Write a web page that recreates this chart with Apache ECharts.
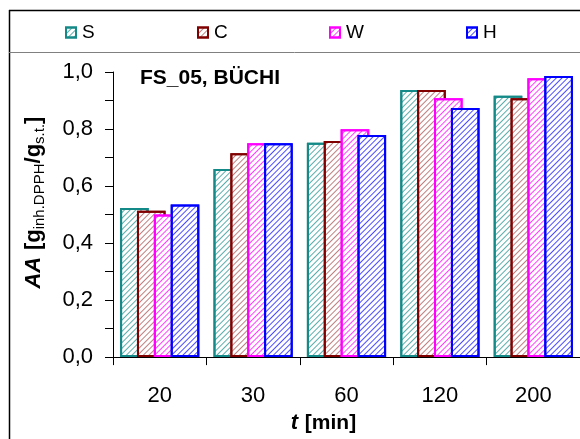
<!DOCTYPE html>
<html>
<head>
<meta charset="utf-8">
<script src="https://cdn.jsdelivr.net/npm/echarts@6/dist/echarts.min.js"></script>
<style>
html,body{margin:0;padding:0;background:#fff;}
#chart{width:580px;height:439px;}
</style>
</head>
<body>
<div id="chart"></div>
<script>
var categories = ['20', '30', '60', '120', '200'];
var seriesNames = ['S', 'C', 'W', 'H'];
var valuesS = [0.523, 0.660, 0.752, 0.937, 0.917];
var valuesC = [0.513, 0.715, 0.758, 0.937, 0.908];
var valuesW = [0.500, 0.750, 0.799, 0.908, 0.978];
var valuesH = [0.535, 0.750, 0.779, 0.874, 0.986];
var yTickLabels = ['0,0', '', '0,2', '', '0,4', '', '0,6', '', '0,8', '', '1,0'];
var titleText = 'FS_05, BÜCHI';

var seriesValues = [valuesS, valuesC, valuesW, valuesH];
var borderColors = ['#148a88', '#800000', '#ff00ff', '#0000ff'];
var stripeColors = ['rgba(20,138,136,0.7)', 'rgba(128,0,0,0.5)', 'rgba(255,0,255,0.75)', 'rgba(0,0,255,0.7)'];
var legendLefts = [60, 192, 324, 461];
var FONT = "'Liberation Sans', Arial, sans-serif";

var chart = echarts.init(document.getElementById('chart'), null, {renderer: 'canvas'});

var series = seriesNames.map(function (n, i) {
  return {
    name: n,
    type: 'bar',
    data: seriesValues[i],
    barWidth: 28.6,
    barGap: '-41%',
    itemStyle: {
      color: '#ffffff',
      borderColor: borderColors[i],
      borderWidth: 2,
      decal: {
        symbol: 'rect',
        symbolSize: 1,
        dashArrayX: [1, 0],
        dashArrayY: [1, 3],
        rotation: -Math.PI / 4,
        color: stripeColors[i]
      }
    },
    emphasis: {disabled: true},
    animation: false
  };
});

var legends = seriesNames.map(function (n, i) {
  return {
    data: [n],
    left: legendLefts[i],
    top: 18,
    icon: 'rect',
    itemWidth: 10,
    itemHeight: 10,
    itemGap: 5,
    selectedMode: false,
    textStyle: {fontFamily: FONT, fontSize: 19, color: '#000', padding: [0, 0, 0, 1]}
  };
});

var option = {
  backgroundColor: '#ffffff',
  animation: false,
  title: {
    text: titleText,
    left: 135,
    top: 63,
    textStyle: {fontFamily: FONT, fontSize: 21, fontWeight: 'bold', color: '#000'}
  },
  legend: legends,
  grid: {left: 113, top: 72, width: 468, height: 288, containLabel: false},
  xAxis: {
    type: 'category',
    data: categories,
    boundaryGap: true,
    axisLine: {show: true, lineStyle: {color: '#000', width: 1}},
    axisTick: {show: true, length: 8, inside: false, lineStyle: {color: '#000'}},
    axisLabel: {fontFamily: FONT, fontSize: 22, color: '#000', margin: 28},
    name: '{t|t}  {b|[min]}',
    nameLocation: 'middle',
    nameGap: 50,
    nameTextStyle: {
      padding: [0, 46, 0, 0],
      rich: {
        t: {fontFamily: FONT, fontSize: 22, fontWeight: 'bold', fontStyle: 'italic', color: '#000'},
        b: {fontFamily: FONT, fontSize: 21, fontWeight: 'bold', color: '#000'}
      }
    }
  },
  yAxis: {
    type: 'value',
    min: 0,
    max: 1,
    interval: 0.1,
    splitLine: {show: false},
    axisLine: {show: true, lineStyle: {color: '#000', width: 1}},
    axisTick: {show: true, length: 8, inside: false, lineStyle: {color: '#000'}},
    axisLabel: {
      fontFamily: FONT, fontSize: 22, color: '#000', margin: 20,
      formatter: function (v) { return yTickLabels[Math.round(v * 10)]; }
    },
    name: '{a|AA}  {m|[g}{s|inh.DPPH}{m|/g}{s|s.t.}{m|]}',
    nameLocation: 'middle',
    nameRotate: 90,
    nameGap: 66,
    nameTextStyle: {
      padding: [0, 0, 0, 24],
      rich: {
        a: {fontFamily: FONT, fontSize: 22, fontWeight: 'bold', fontStyle: 'italic', color: '#000', lineHeight: 26},
        m: {fontFamily: FONT, fontSize: 22, fontWeight: 'bold', color: '#000', lineHeight: 26},
        s: {fontFamily: FONT, fontSize: 15, color: '#000', lineHeight: 14, verticalAlign: 'bottom'}
      }
    }
  },
  graphic: [
    {type: 'line', shape: {x1: 9.5, y1: 10, x2: 9.5, y2: 439}, style: {stroke: '#000', lineWidth: 1.5}, silent: true},
    {type: 'line', shape: {x1: 9, y1: 10.5, x2: 580, y2: 10.5}, style: {stroke: '#000', lineWidth: 1.5}, silent: true},
    {type: 'line', shape: {x1: 9, y1: 52.5, x2: 580, y2: 52.5}, style: {stroke: '#808080', lineWidth: 1}, silent: true}
  ],
  series: series
};
chart.setOption(option);
</script>
</body>
</html>
